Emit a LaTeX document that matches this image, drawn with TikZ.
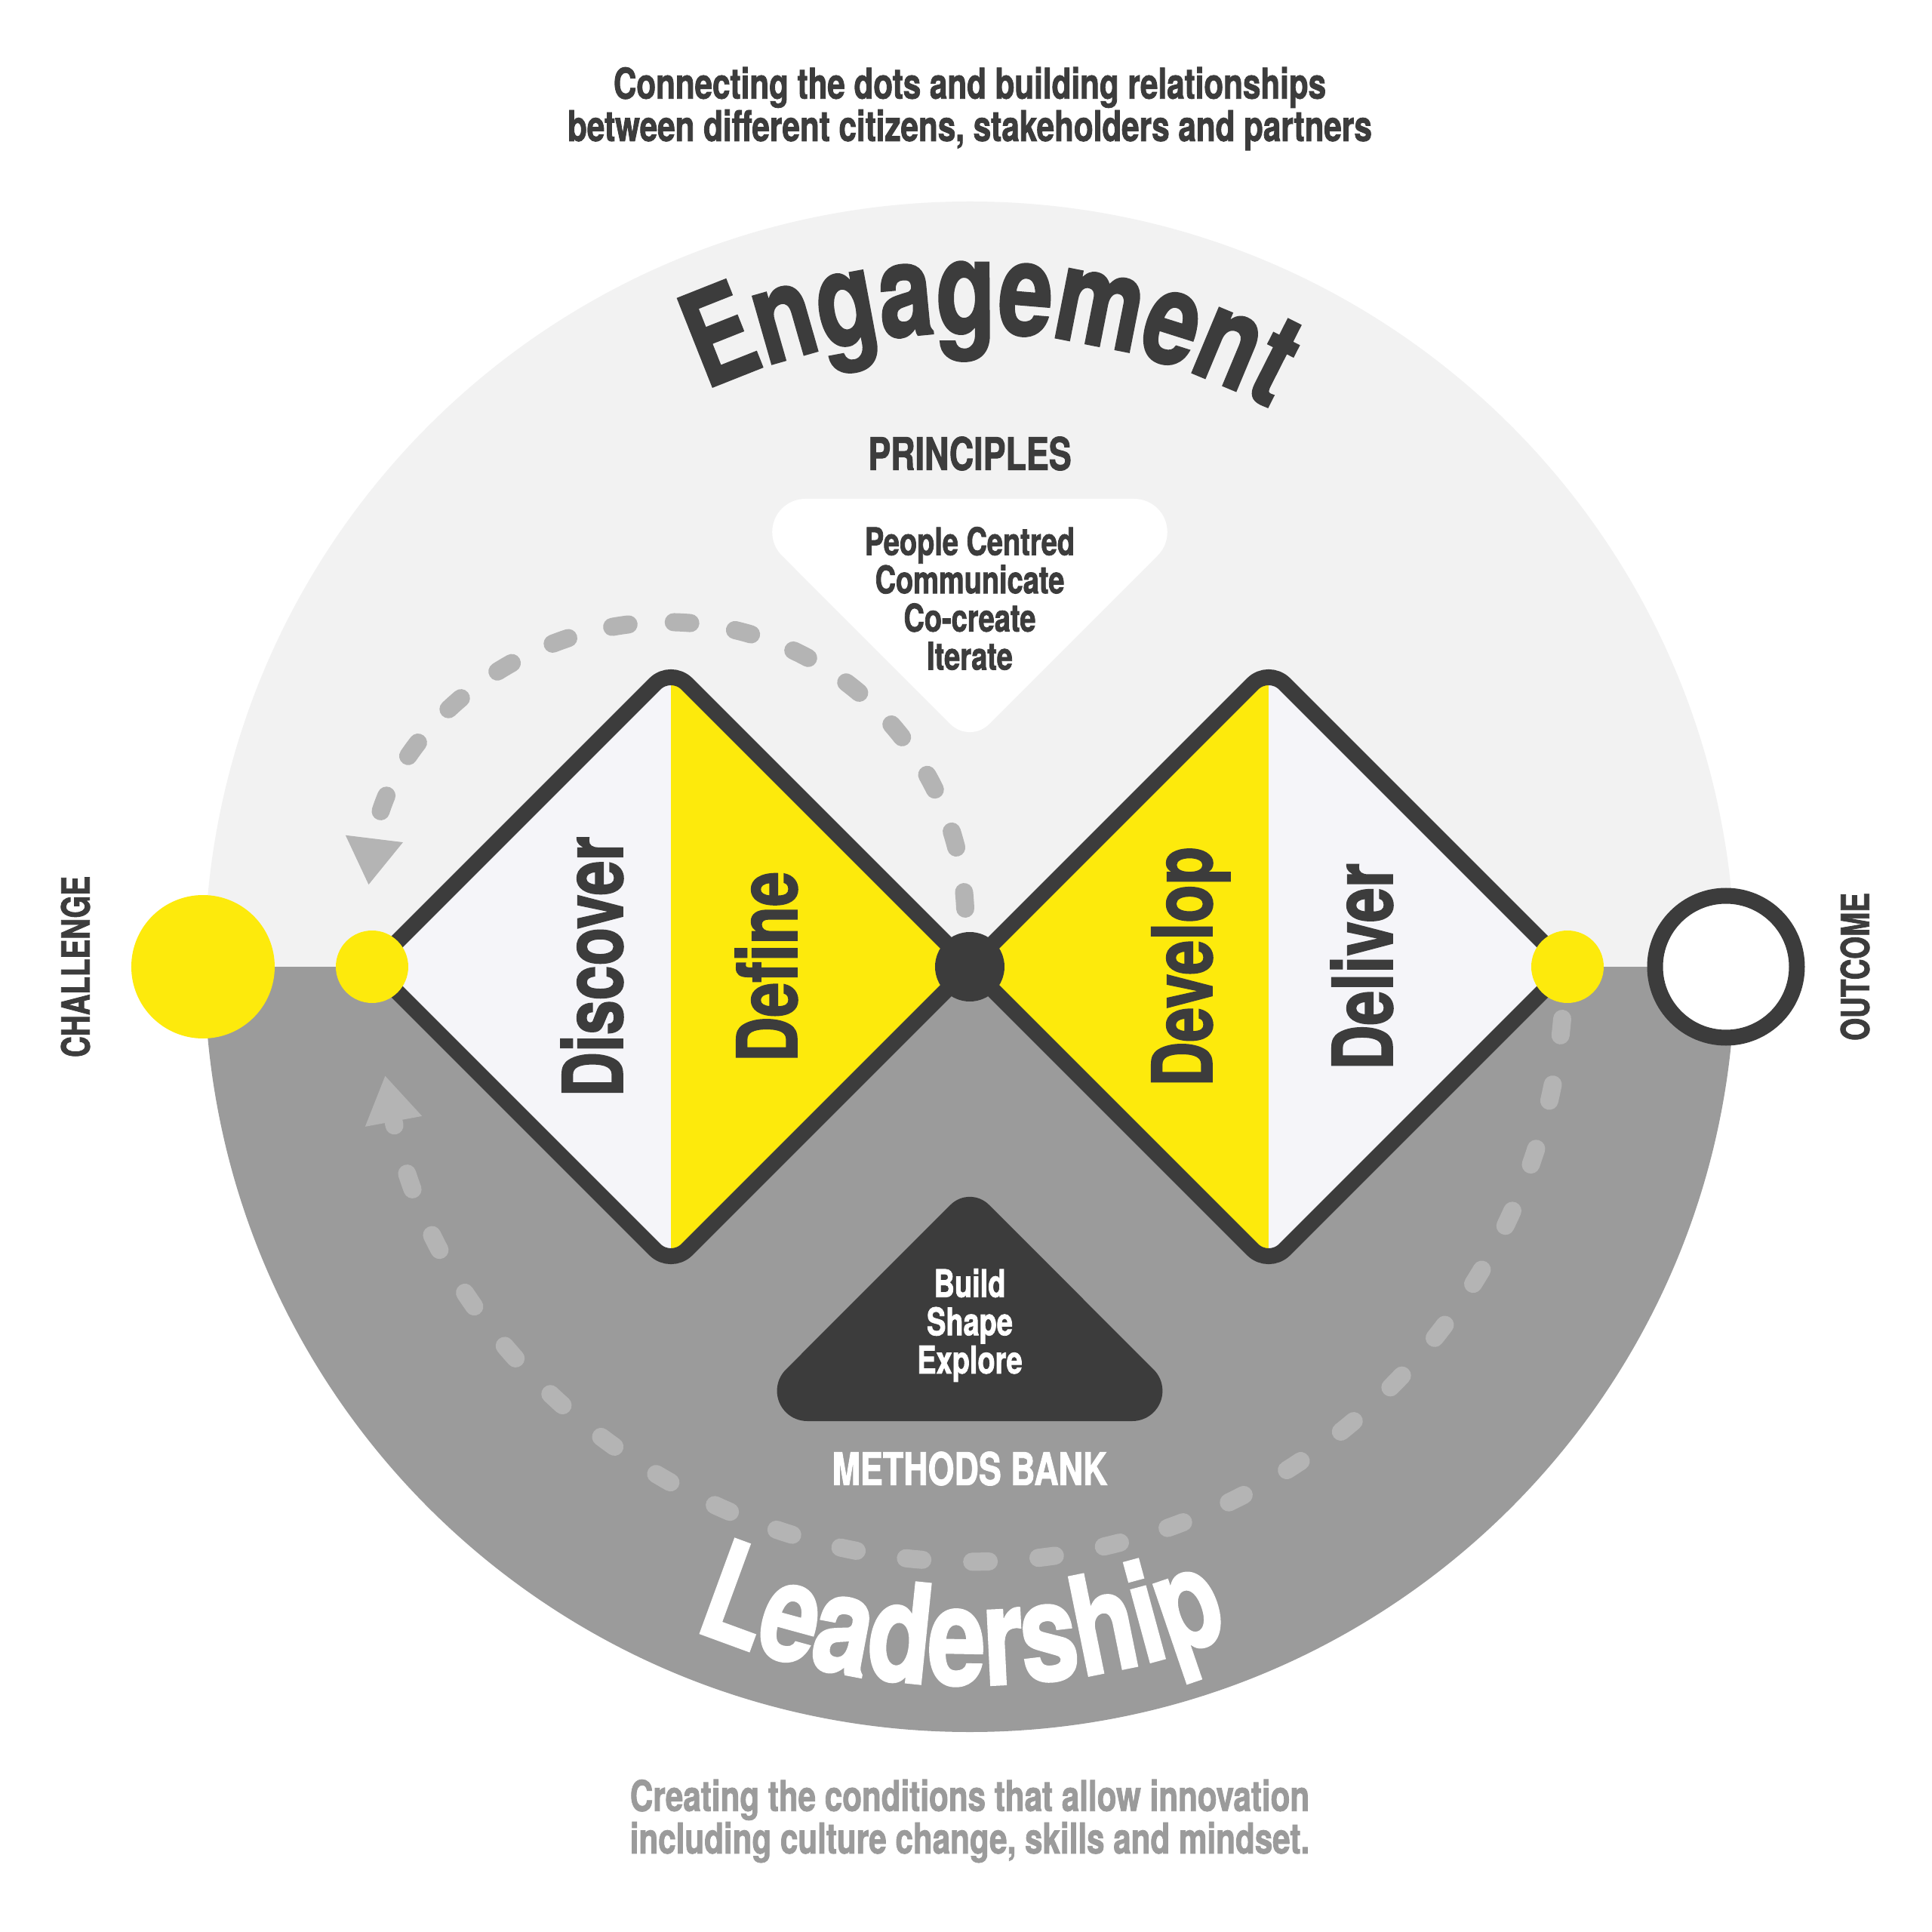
\documentclass[tikz,border=0pt]{standalone}
\usepackage{fontspec}
\newfontfamily\narrowfont{TeX Gyre Heros}[FakeStretch=0.75, FakeBold=1.5]
\usetikzlibrary{arrows.meta,decorations.text}

\definecolor{inkdark}{RGB}{60,60,60}
\definecolor{paleback}{RGB}{242,242,242}
\definecolor{midgray}{RGB}{155,155,155}
\definecolor{dashgray}{RGB}{180,180,180}
\definecolor{sunyellow}{RGB}{253,234,12}
\definecolor{paper}{RGB}{245,245,249}

\newcommand\bigword{\narrowfont\bfseries\fontsize{49}{50}\selectfont}
\newcommand\lowword{\narrowfont\bfseries\fontsize{52}{54}\selectfont}

\tikzset{
  captext/.style={font=\narrowfont\bfseries\fontsize{16}{16}\selectfont, align=center, inner sep=0},
  headtext/.style={font=\narrowfont\bfseries\fontsize{17}{17}\selectfont, inner sep=0},
  listtext/.style={font=\narrowfont\bfseries\fontsize{14.4}{14.4}\selectfont, align=center, inner sep=0},
  phaselabel/.style={font=\narrowfont\bfseries\fontsize{31.3}{31.3}\selectfont, text=inkdark, rotate=90, anchor=base, inner sep=0},
  endtext/.style={font=\narrowfont\bfseries\fontsize{14.6}{14.6}\selectfont, text=inkdark, rotate=90, inner sep=0},
  ringdot/.style={circle, inner sep=0},
  dashloop/.style={dashgray, line width=0.24cm, line cap=round},
}

\begin{document}
\begin{tikzpicture}
  \fill[white] (-12.85,-12.79) rectangle (12.75,12.81);
  \useasboundingbox (-12.85,-12.79) rectangle (12.75,12.81);
  % the two halves of the disc
  \fill[paleback] (-10.14,0) arc[start angle=180, end angle=0, radius=10.14] -- cycle;
  \fill[midgray] (-10.14,0) arc[start angle=180, end angle=360, radius=10.14] -- cycle;
  % principles and methods triangles
  \fill[white] (-2.178,6.20) -- (2.178,6.20) arc[start angle=90, end angle=-45, radius=0.44]
    -- (0.2546,3.2144) arc[start angle=-45, end angle=-135, radius=0.36]
    -- (-2.489,5.449) arc[start angle=225, end angle=90, radius=0.44] -- cycle;
  \fill[inkdark] (-2.154,-6.02) -- (2.154,-6.02) arc[start angle=-90, end angle=45, radius=0.40]
    -- (0.2546,-3.154) arc[start angle=45, end angle=135, radius=0.36]
    -- (-2.437,-5.337) arc[start angle=135, end angle=270, radius=0.40] -- cycle;
  % dashed loops
  \coordinate (upperstart) at (-0.06,0.77);
  \coordinate (lowerstart) at (7.85,-0.69);
  \draw[dashloop, dash pattern=on 0.22cm off 0.60cm, -{Triangle[length=0.62cm, width=0.72cm]}]
    (upperstart) arc[start angle=2.5, end angle=173, radius=3.97];
  \draw[dashloop, dash pattern=on 0.22cm off 0.66cm, -{Triangle[length=0.62cm, width=0.72cm]}]
    (lowerstart) arc[start angle=-5, end angle=-169.5, radius=7.88];
  % left diamond
  \begin{scope}
    \clip[rounded corners=0.3cm] (-5.94,1.98) -- (-3.96,3.96) -- (0,0) -- (-3.96,-3.96) -- (-7.92,0) -- cycle;
    \fill[paper] (-7.92,-3.96) rectangle (-3.96,3.96);
    \fill[sunyellow] (-3.96,-3.96) rectangle (0,3.96);
  \end{scope}
  \draw[inkdark, line width=0.21cm, rounded corners=0.3cm]
    (-5.94,1.98) -- (-3.96,3.96) -- (0,0) -- (-3.96,-3.96) -- (-7.92,0) -- cycle;
  % right diamond
  \begin{scope}
    \clip[rounded corners=0.3cm] (1.98,1.98) -- (3.96,3.96) -- (7.92,0) -- (3.96,-3.96) -- (0,0) -- cycle;
    \fill[sunyellow] (0,-3.96) rectangle (3.96,3.96);
    \fill[paper] (3.96,-3.96) rectangle (7.92,3.96);
  \end{scope}
  \draw[inkdark, line width=0.21cm, rounded corners=0.3cm]
    (1.98,1.98) -- (3.96,3.96) -- (7.92,0) -- (3.96,-3.96) -- (0,0) -- cycle;
  % dots on the line
  \node[ringdot, fill=sunyellow, minimum size=1.90cm] (challenge) at (-10.16,0) {};
  \node[ringdot, fill=sunyellow, minimum size=0.96cm] (startdot) at (-7.92,0) {};
  \node[ringdot, fill=inkdark, minimum size=0.92cm] (middot) at (0,0) {};
  \node[ringdot, fill=sunyellow, minimum size=0.96cm] (enddot) at (7.92,0) {};
  \node[ringdot, draw=inkdark, line width=0.21cm, fill=white, minimum size=1.88cm] (outcome) at (10.02,0) {};
  \node[endtext] (challengetext) at (-11.85,0) {CHALLENGE};
  \node[endtext] (outcometext) at (11.73,0) {OUTCOME};
  % phase names
  \node[phaselabel] (discover) at (-4.60,0) {Discover};
  \node[phaselabel] (define) at (-2.29,0) {Define};
  \node[phaselabel] (develop) at (3.21,0) {Develop};
  \node[phaselabel] (deliver) at (5.60,0) {Deliver};
  % texts
  \node[captext, text=inkdark] (topnote) at (0,11.37)
    {Connecting the dots and building relationships\\between different citizens, stakeholders and partners};
  \node[captext, text=midgray] (bottomnote) at (0,-11.32)
    {Creating the conditions that allow innovation\\including culture change, skills and mindset.};
  \node[headtext, text=inkdark] (principles) at (0,6.80) {PRINCIPLES};
  \node[headtext, text=white] (methods) at (0,-6.65) {METHODS BANK};
  \node[listtext, text=inkdark] (principlelist) at (0,4.88) {People Centred\\Communicate\\Co-create\\Iterate};
  \node[listtext, text=white] (methodlist) at (0,-4.75) {Build\\Shape\\Explore};
  % curved words
  \path[decorate, decoration={text along path, text={|\bigword|Engagement}, text align=center, text color=inkdark}]
    (128.15:8.40) arc[start angle=128.15, end angle=48.15, radius=8.40];
  \path[decorate, decoration={text along path, text={|\lowword|Leadership}, text align=center, text color=white}]
    (-130.65:9.52) arc[start angle=-130.65, end angle=-50.65, radius=9.52];
\end{tikzpicture}
\end{document}
